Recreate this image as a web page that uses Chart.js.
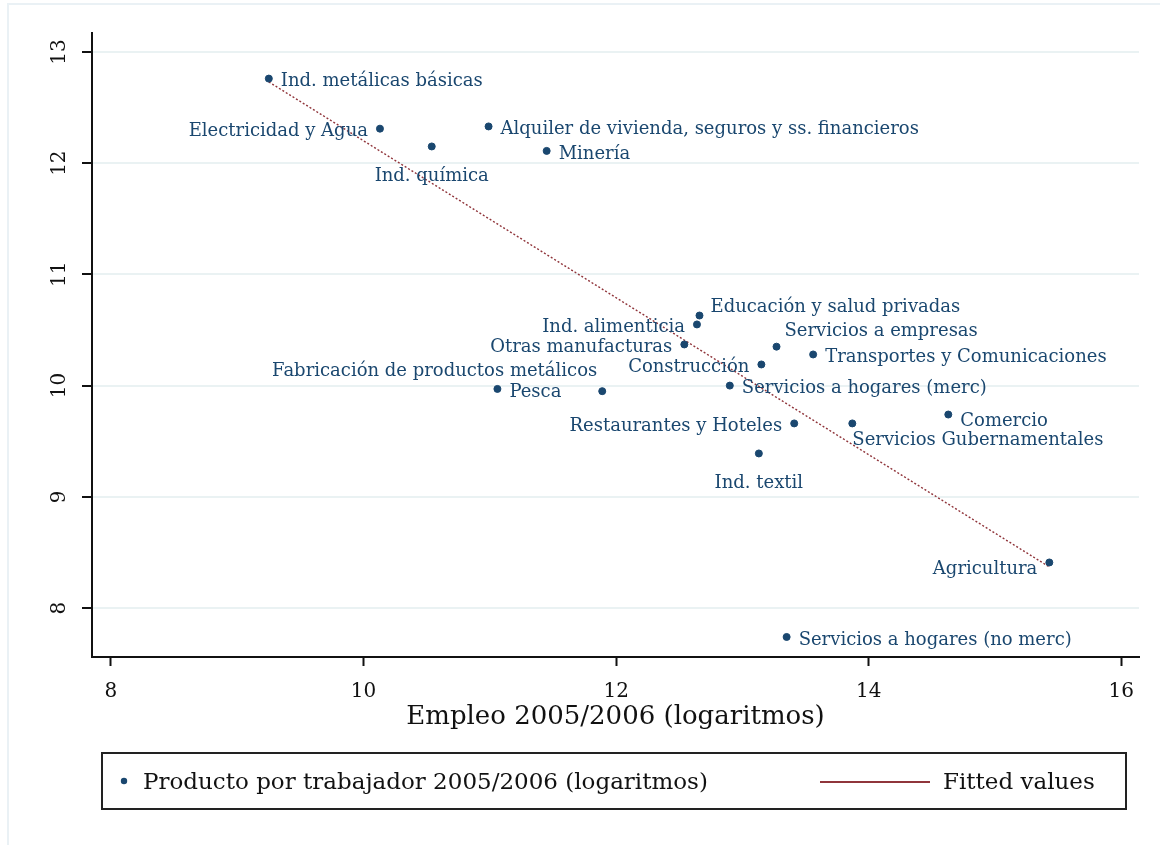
<!DOCTYPE html>
<html>
<head>
<meta charset="utf-8">
<script src="https://cdn.jsdelivr.net/npm/chart.js@4"></script>
<style>
  html, body { margin: 0; padding: 0; background: #fff; }
  #wrap { width: 1160px; height: 845px; position: relative; }
</style>
</head>
<body>
<div id="wrap"><canvas id="myChart" width="1160" height="845"></canvas></div>
<script>
// sectores (empleo y producto por trabajador, logaritmos)
const sectores = ['Ind. metálicas básicas', 'Electricidad y Agua', 'Ind. química',
  'Alquiler de vivienda, seguros y ss. financieros', 'Minería', 'Educación y salud privadas',
  'Ind. alimenticia', 'Otras manufacturas', 'Servicios a empresas', 'Transportes y Comunicaciones',
  'Construcción', 'Servicios a hogares (merc)', 'Pesca', 'Fabricación de productos metálicos',
  'Restaurantes y Hoteles', 'Servicios Gubernamentales', 'Comercio', 'Ind. textil',
  'Agricultura', 'Servicios a hogares (no merc)']
const empleo = [9.25, 10.13, 10.54, 10.99, 11.45, 12.66, 12.64, 12.54, 13.27, 13.56,
  13.15, 12.9, 11.06, 11.89, 13.41, 13.87, 14.63, 13.13, 15.43, 13.35]
const producto = [12.76, 12.31, 12.15, 12.33, 12.11, 10.63, 10.55, 10.37, 10.35, 10.28,
  10.19, 10.0, 9.97, 9.95, 9.66, 9.66, 9.74, 9.39, 8.41, 7.74]
// posicion de la etiqueta (reloj, como mlabvposition)
const posEtiqueta = [3, 9, 6, 3, 3, 2, 9, 9, 1, 3, 9, 3, 3, 11, 9, 5, 4, 6, 8, 3]

const fittedX = [9.25, 15.43]
const fittedY = [12.73, 8.37]

const xTicks = [8, 10, 12, 14, 16]
const yTicks = [8, 9, 10, 11, 12, 13]

const navy = '#1a476f'
const maroon = '#90353b'
const serif = 'DejaVu Serif'

const offsets = {
  1: ['left', 8, -15], 2: ['left', 11, -8], 3: ['left', 12, 3], 4: ['left', 12, 7],
  5: ['left', 0, 17], 6: ['center', 0, 30], 8: ['right', -12, 7], 9: ['right', -12, 3],
  11: ['right', -5, -20]
}

const etiquetas = {
  id: 'etiquetas',
  afterDatasetsDraw(chart) {
    const ctx = chart.ctx
    const meta = chart.getDatasetMeta(0)
    ctx.save()
    ctx.font = '18px "' + serif + '"'
    ctx.fillStyle = navy
    ctx.textBaseline = 'middle'
    meta.data.forEach((pt, i) => {
      const o = offsets[posEtiqueta[i]]
      ctx.textAlign = o[0]
      ctx.fillText(sectores[i], pt.x + o[1], pt.y + o[2])
    })
    ctx.restore()
  }
}

const marco = {
  id: 'marco',
  beforeDraw(chart) {
    const ctx = chart.ctx
    ctx.save()
    ctx.fillStyle = '#ffffff'
    ctx.fillRect(0, 0, chart.width, chart.height)
    ctx.strokeStyle = '#eaf1f5'
    ctx.lineWidth = 2
    ctx.strokeRect(8, 4, chart.width + 20, chart.height + 20)
    ctx.restore()
  },
  afterDraw(chart) {
    const ctx = chart.ctx
    const y = chart.scales.y
    ctx.save()
    // etiquetas del eje y, giradas
    ctx.font = '20px "' + serif + '"'
    ctx.fillStyle = '#111'
    ctx.textAlign = 'center'
    ctx.textBaseline = 'middle'
    yTicks.forEach(v => {
      const py = y.getPixelForValue(v)
      ctx.save()
      ctx.translate(60, py)
      ctx.rotate(-Math.PI / 2)
      ctx.fillText(String(v), 0, 0)
      ctx.restore()
    })
    // leyenda
    ctx.strokeStyle = '#222'
    ctx.lineWidth = 2
    ctx.strokeRect(102, 753, 1024, 56)
    ctx.font = '23px "' + serif + '"'
    ctx.textAlign = 'left'
    ctx.fillStyle = navy
    ctx.beginPath()
    ctx.arc(124, 781, 3.2, 0, Math.PI * 2)
    ctx.fill()
    ctx.fillStyle = '#111'
    ctx.fillText(chart.data.datasets[0].label, 143, 783)
    ctx.strokeStyle = maroon
    ctx.lineWidth = 2
    ctx.beginPath()
    ctx.moveTo(820, 782)
    ctx.lineTo(930, 782)
    ctx.stroke()
    ctx.fillText(chart.data.datasets[1].label, 943, 783)
    ctx.restore()
  }
}

const ctx = document.getElementById('myChart')

new Chart(ctx, {
  data: {
    datasets: [{
      type: 'scatter',
      label: 'Producto por trabajador 2005/2006 (logaritmos)',
      data: empleo.map((x, i) => ({ x: x, y: producto[i] })),
      backgroundColor: navy,
      borderColor: navy,
      pointRadius: 3.5,
      pointHoverRadius: 3.5
    }, {
      type: 'line',
      label: 'Fitted values',
      data: fittedX.map((x, i) => ({ x: x, y: fittedY[i] })),
      borderColor: maroon,
      borderWidth: 1.4,
      borderDash: [2, 2],
      pointRadius: 0,
      fill: false
    }]
  },
  options: {
    responsive: false,
    animation: false,
    devicePixelRatio: 1,
    layout: { padding: { left: 0, top: 33, right: 21, bottom: 112 } },
    plugins: { legend: { display: false }, tooltip: { enabled: false } },
    scales: {
      x: {
        type: 'linear',
        min: 7.85,
        max: 16.14,
        afterBuildTicks: s => { s.ticks = xTicks.map(v => ({ value: v })) },
        afterFit: s => { s.height = 76 },
        grid: { drawOnChartArea: false, drawTicks: true, tickLength: 9, tickColor: '#111', tickWidth: 2 },
        border: { color: '#111', width: 2 },
        ticks: { color: '#111', font: { family: serif, size: 20 }, padding: 14, maxRotation: 0 },
        title: {
          display: true,
          text: 'Empleo 2005/2006 (logaritmos)',
          color: '#111',
          font: { family: serif, size: 26 },
          padding: { top: 0, bottom: 0 }
        }
      },
      y: {
        type: 'linear',
        min: 7.56,
        max: 13.17,
        afterBuildTicks: s => { s.ticks = yTicks.map(v => ({ value: v })) },
        afterFit: s => { s.width = 92 },
        grid: { color: '#eaf2f3', lineWidth: 2, drawTicks: true, tickLength: 10, tickColor: '#111', tickWidth: 2 },
        border: { color: '#111', width: 2 },
        ticks: { display: false }
      }
    }
  },
  plugins: [marco, etiquetas]
})
</script>
</body>
</html>
